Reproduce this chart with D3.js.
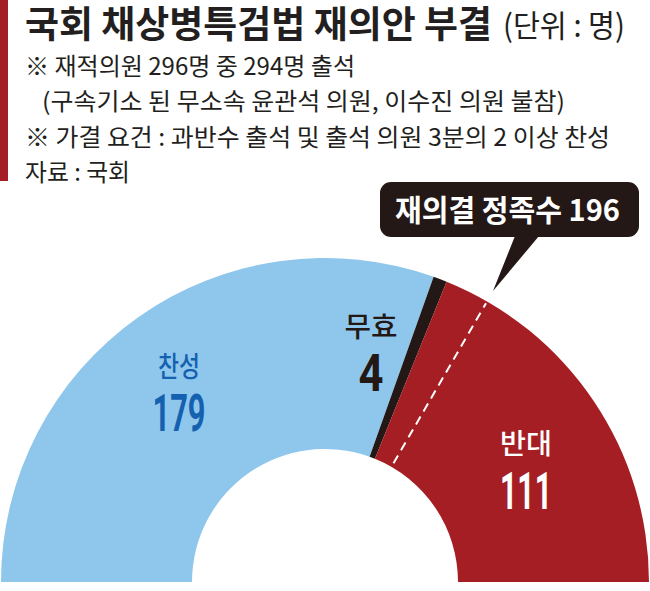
<!DOCTYPE html>
<html><head><meta charset="utf-8">
<script src="https://cdn.jsdelivr.net/npm/d3@7"></script>
<style>html,body{margin:0;padding:0;background:#fff;}svg{display:block;}</style>
</head><body>
<svg id="chart" width="650" height="591"></svg>
<script>
// ---- data ----
const categories = ["찬성", "무효", "반대"];
const values = [179, 4, 111];
const thresholdValue = 196;
const thresholdLabel = "재의결 정족수 196";
const titleText = "국회 채상병특검법 재의안 부결";
const unitText = "(단위 : 명)";
const noteLines = [
  "※ 재적의원 296명 중 294명 출석",
  "(구속기소 된 무소속 윤관석 의원, 이수진 의원 불참)",
  "※ 가결 요건 : 과반수 출석 및 출석 의원 3분의 2 이상 찬성",
  "자료 : 국회"
];

// ---- styles ----
const sliceColors = ["#8fc7ec", "#231815", "#a51e24"];
const labelColors = ["#1461b0", "#231815", "#ffffff"];
const FONT = "'Noto Sans CJK KR', 'Noto Sans', sans-serif";
const NUMFONT = "Roboto, 'Liberation Sans', Arial, sans-serif";

const svg = d3.select("#chart");
svg.append("rect").attr("width", 650).attr("height", 591).attr("fill", "#fff");

// left accent bar
svg.append("rect").attr("x", 0).attr("y", 0).attr("width", 8).attr("height", 181).attr("fill", "#a51e24");

// title
svg.append("text").attr("x", 25).attr("y", 38)
  .attr("font-family", FONT).attr("font-weight", 700).attr("font-size", 37)
  .attr("fill", "#231f20").attr("textLength", 467).attr("lengthAdjust", "spacingAndGlyphs")
  .text(titleText);
svg.append("text").attr("x", 503).attr("y", 37)
  .attr("font-family", FONT).attr("font-weight", 400).attr("font-size", 31)
  .attr("fill", "#231f20").attr("textLength", 122).attr("lengthAdjust", "spacingAndGlyphs")
  .text(unitText);

// notes
const noteX = [25, 42, 25, 25];
const noteW = [330, 523, 585, 105];
const noteY = [75, 110, 146, 181];
noteLines.forEach((t, i) => {
  svg.append("text").attr("x", noteX[i]).attr("y", noteY[i])
    .attr("font-family", FONT).attr("font-size", 24).attr("fill", "#231f20")
    .attr("textLength", noteW[i]).attr("lengthAdjust", "spacingAndGlyphs")
    .text(t);
});

// ---- half donut ----
const cx = 325, cy = 582, rOuter = 324, rInner = 133;
const total = d3.sum(values);
const g = svg.append("g").attr("transform", `translate(${cx},${cy})`);
const pie = d3.pie().sort(null).startAngle(-Math.PI / 2).endAngle(Math.PI / 2);
const arc = d3.arc().innerRadius(rInner).outerRadius(rOuter);
const arcs = pie(values);
g.selectAll("path.slice").data(arcs).join("path")
  .attr("class", "slice")
  .attr("d", arc)
  .attr("fill", (d, i) => sliceColors[i]);

// threshold dashed line
const angle = d3.scaleLinear().domain([0, total]).range([-Math.PI / 2, Math.PI / 2]);
const a196 = angle(thresholdValue);
const pt = (r, a) => [r * Math.sin(a), -r * Math.cos(a)];
const p0 = pt(rInner + 4, a196), p1 = pt(rOuter - 2, a196);
g.append("line")
  .attr("x1", p0[0]).attr("y1", p0[1]).attr("x2", p1[0]).attr("y2", p1[1])
  .attr("stroke", "#fff").attr("stroke-width", 2).attr("stroke-dasharray", "9,6");

// callout box
const tip = pt(rOuter + 12, a196);
const tipX = cx + tip[0], tipY = cy + tip[1];
const box = { x: 380, y: 182, w: 259, h: 55, r: 11 };
svg.append("rect").attr("x", box.x).attr("y", box.y).attr("width", box.w).attr("height", box.h)
  .attr("rx", box.r).attr("fill", "#231815");
svg.append("path")
  .attr("d", `M${515},${box.y + box.h - 1} L${539},${box.y + box.h - 1} L${tipX},${tipY} Z`)
  .attr("fill", "#231815");
svg.append("text").attr("x", 395).attr("y", 221)
  .attr("font-family", FONT).attr("font-weight", 700).attr("font-size", 30)
  .attr("fill", "#fff").attr("textLength", 225).attr("lengthAdjust", "spacingAndGlyphs")
  .text(thresholdLabel);

// ---- slice labels ----
const labelPos = [
  { x: 179, yName: 377, yVal: 431, wName: 42, wVal: 53 },
  { x: 371, yName: 337, yVal: 391, wName: 53, wVal: 25 },
  { x: 526, yName: 454, yVal: 509, wName: 52, wVal: 52 }
];
categories.forEach((c, i) => {
  const p = labelPos[i];
  svg.append("text").attr("x", p.x - p.wName / 2).attr("y", p.yName)
    .attr("font-family", FONT).attr("font-weight", 500).attr("font-size", 28)
    .attr("fill", labelColors[i]).attr("textLength", p.wName).attr("lengthAdjust", "spacingAndGlyphs")
    .text(c);
  svg.append("text").attr("x", p.x - p.wVal / 2).attr("y", p.yVal)
    .attr("font-family", NUMFONT).attr("font-weight", 700).attr("font-size", 51)
    .attr("fill", labelColors[i]).attr("textLength", p.wVal).attr("lengthAdjust", "spacingAndGlyphs")
    .text(values[i]);
});
</script>
</body></html>
